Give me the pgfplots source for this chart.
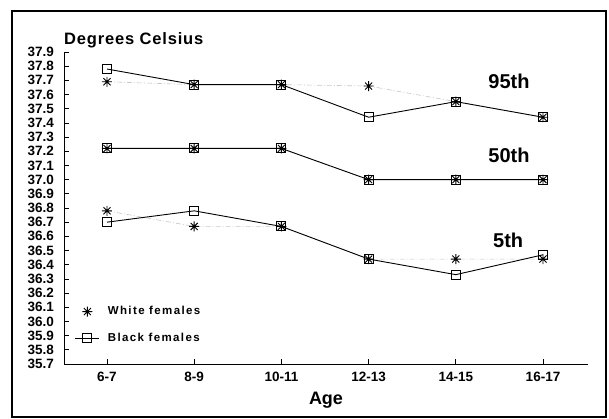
\documentclass[border=0pt]{standalone}
\usepackage{fontspec}
\setmainfont{Liberation Sans}
\usepackage{pgfplots}
\pgfplotsset{compat=1.18}
\usetikzlibrary{calc}
\pgfdeclareplotmark{ast8}{%
 \pgfpathmoveto{\pgfqpoint{-\pgfplotmarksize}{0pt}}\pgfpathlineto{\pgfqpoint{\pgfplotmarksize}{0pt}}%
 \pgfpathmoveto{\pgfqpoint{0pt}{-\pgfplotmarksize}}\pgfpathlineto{\pgfqpoint{0pt}{\pgfplotmarksize}}%
 \pgfpathmoveto{\pgfqpoint{-0.707\pgfplotmarksize}{-0.707\pgfplotmarksize}}\pgfpathlineto{\pgfqpoint{0.707\pgfplotmarksize}{0.707\pgfplotmarksize}}%
 \pgfpathmoveto{\pgfqpoint{-0.707\pgfplotmarksize}{0.707\pgfplotmarksize}}\pgfpathlineto{\pgfqpoint{0.707\pgfplotmarksize}{-0.707\pgfplotmarksize}}%
 \pgfusepathqstroke}
\begin{document}
\begin{tikzpicture}
\begin{axis}[
  name=ax,
  scale only axis, width=524pt, height=312pt,
  xmin=-0.493, xmax=5.516, ymin=35.7, ymax=37.9,
  axis x line=bottom, axis y line=left,
  axis line style={-, line width=0.9pt},
  tick align=inside, major tick length=5pt,
  tick style={black, line width=0.8pt},
  xtick={0,1,2,3,4,5},
  xticklabels={6-7,8-9,10-11,12-13,14-15,16-17},
  ytick={35.7,35.8,...,37.95},
  yticklabel style={/pgf/number format/fixed, /pgf/number format/fixed zerofill, /pgf/number format/precision=1, font=\fontsize{13.5}{13.5}\selectfont\bfseries, inner sep=0pt, xshift=-10pt},
  xticklabel style={font=\fontsize{13.5}{13.5}\selectfont\bfseries, yshift=-5pt},
  /pgf/number format/assume math mode=true,
  clip=false,
  legend style={draw=none, fill=none, at={(axis cs:-0.37,36.12)}, anchor=north west, font=\fontsize{11.5}{11.5}\selectfont\bfseries\addfontfeatures{LetterSpace=12}, row sep=13pt, inner sep=0pt, nodes={inner xsep=8pt}},
  legend cell align=left,
  legend image code/.code={\draw[mark repeat=2,mark phase=2,#1] plot coordinates {(0pt,0pt)(12pt,0pt)(24pt,0pt)};},
]
% White females (dotted grey with asterisks)
\addplot[gray!45, line width=0.6pt, dash pattern=on 5pt off 2pt on 1pt off 2pt, mark=ast8, mark size=5pt, mark options={black, solid, line width=0.9pt}, forget plot] coordinates {(0,37.69)(1,37.67)(2,37.67)(3,37.66)(4,37.55)(5,37.44)};
\addplot[gray!45, line width=0.6pt, dash pattern=on 5pt off 2pt on 1pt off 2pt, mark=ast8, mark size=5pt, mark options={black, solid, line width=0.9pt}, forget plot] coordinates {(0,37.22)(1,37.22)(2,37.22)(3,37.00)(4,37.00)(5,37.00)};
\addplot[gray!45, line width=0.6pt, dash pattern=on 5pt off 2pt on 1pt off 2pt, mark=ast8, mark size=5pt, mark options={black, solid, line width=0.9pt}, forget plot] coordinates {(0,36.78)(1,36.67)(2,36.67)(3,36.44)(4,36.44)(5,36.44)};
% Black females (solid with squares)
\addplot[black, line width=0.9pt, mark=square, mark size=4.5pt, mark options={solid, fill=none}, forget plot] coordinates {(0,37.78)(1,37.67)(2,37.67)(3,37.44)(4,37.55)(5,37.44)};
\addplot[black, line width=0.9pt, mark=square, mark size=4.5pt, mark options={solid, fill=none}, forget plot] coordinates {(0,37.22)(1,37.22)(2,37.22)(3,37.00)(4,37.00)(5,37.00)};
\addplot[black, line width=0.9pt, mark=square, mark size=4.5pt, mark options={solid, fill=none}, forget plot] coordinates {(0,36.70)(1,36.78)(2,36.67)(3,36.44)(4,36.33)(5,36.47)};
\addlegendimage{legend image code/.code={\draw[black, line width=0.9pt] plot[only marks, mark=ast8, mark size=5pt] coordinates {(12pt,0pt)};}}
\addlegendentry{White females}
\addlegendimage{black, line width=0.9pt, mark=square, mark size=4.5pt}
\addlegendentry{Black females}
\node[font=\fontsize{20}{20}\selectfont\bfseries] at (axis cs:4.61,37.69) {95th};
\node[font=\fontsize{20}{20}\selectfont\bfseries] at (axis cs:4.61,37.17) {50th};
\node[font=\fontsize{20}{20}\selectfont\bfseries] at (axis cs:4.60,36.57) {5th};
\node[font=\fontsize{16.5}{16.5}\selectfont\bfseries\addfontfeatures{LetterSpace=5}, anchor=base west, inner sep=0pt] at ([yshift=7pt]rel axis cs:0,1) {Degrees Celsius};
\node[font=\fontsize{18}{18}\selectfont\bfseries, anchor=base, inner sep=0pt] at ([yshift=-41pt]rel axis cs:0.5,0) {Age};
\end{axis}
\path ($(ax.south west)+(-64pt,-55pt)$) rectangle ($(ax.south west)+(545pt,364pt)$);
\draw[line width=2.6pt] ($(ax.south west)+(-52pt,-53pt)$) rectangle ($(ax.south west)+(542pt,353pt)$);
\end{tikzpicture}
\end{document}
